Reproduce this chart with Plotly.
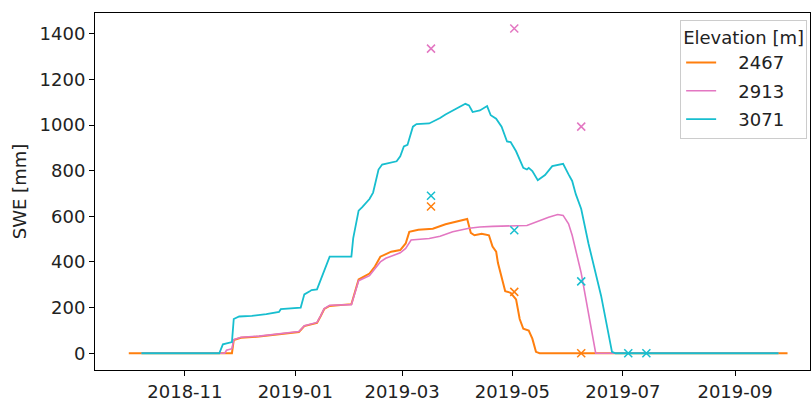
import plotly.graph_objects as go

# Modelled snow water equivalent per station elevation (water year 2018/19)
orange_dates = ["2018-10-01", "2018-11-27", "2018-11-28", "2018-12-02", "2018-12-12", "2018-12-23",
                "2019-01-03", "2019-01-06", "2019-01-09", "2019-01-13", "2019-01-15", "2019-01-17",
                "2019-01-20", "2019-02-01", "2019-02-05", "2019-02-08", "2019-02-11", "2019-02-14",
                "2019-02-17", "2019-02-23", "2019-02-28", "2019-03-03", "2019-03-05", "2019-03-10",
                "2019-03-18", "2019-03-25", "2019-04-03", "2019-04-04", "2019-04-06", "2019-04-08",
                "2019-04-10", "2019-04-14", "2019-04-18", "2019-04-20", "2019-04-22", "2019-04-23",
                "2019-04-25", "2019-04-27", "2019-04-30", "2019-05-03", "2019-05-05", "2019-05-07",
                "2019-05-10", "2019-05-12", "2019-05-14", "2019-05-16", "2019-09-30"]
orange_swe = [0, 0, 58, 68, 73, 83, 93, 119, 126, 133, 162, 194, 207, 215, 323, 337, 349, 380, 423,
              445, 452, 481, 532, 541, 546, 565, 582, 585, 588, 527, 517, 524, 517, 467, 445, 395,
              337, 272, 265, 236, 150, 107, 99, 64, 6, 0, 0]

pink_dates = ["2018-10-08", "2018-11-23", "2018-11-24", "2018-11-27", "2018-11-28", "2018-12-02",
              "2018-12-12", "2018-12-23", "2019-01-03", "2019-01-06", "2019-01-09", "2019-01-13",
              "2019-01-15", "2019-01-17", "2019-01-20", "2019-02-01", "2019-02-05", "2019-02-08",
              "2019-02-11", "2019-02-14", "2019-02-17", "2019-02-20", "2019-02-28", "2019-03-03",
              "2019-03-06", "2019-03-16", "2019-03-22", "2019-03-29", "2019-04-07", "2019-04-13",
              "2019-04-20", "2019-05-09", "2019-05-16", "2019-05-21", "2019-05-26", "2019-05-29",
              "2019-06-01", "2019-06-03", "2019-06-08", "2019-06-13", "2019-06-16", "2019-09-25"]
pink_swe = [0, 0, 13, 20, 60, 70, 75, 85, 95, 121, 128, 135, 164, 196, 210, 213, 318, 330, 340, 370,
            400, 416, 440, 459, 496, 503, 513, 532, 548, 553, 556, 560, 582, 596, 608, 604, 567, 517,
            351, 135, 0, 0]

cyan_dates = ["2018-10-08", "2018-11-20", "2018-11-22", "2018-11-27", "2018-11-28", "2018-12-01",
              "2018-12-08", "2018-12-16", "2018-12-23", "2018-12-24", "2019-01-04", "2019-01-06",
              "2019-01-09", "2019-01-10", "2019-01-13", "2019-01-14", "2019-01-16", "2019-01-18",
              "2019-01-20", "2019-02-01", "2019-02-02", "2019-02-05", "2019-02-07", "2019-02-11",
              "2019-02-13", "2019-02-16", "2019-02-18", "2019-02-26", "2019-02-28", "2019-03-02",
              "2019-03-04", "2019-03-07", "2019-03-09", "2019-03-16", "2019-03-18", "2019-03-22",
              "2019-03-25", "2019-03-29", "2019-04-02", "2019-04-05", "2019-04-07", "2019-04-09",
              "2019-04-13", "2019-04-17", "2019-04-19", "2019-04-22", "2019-04-25", "2019-04-28",
              "2019-04-30", "2019-05-03", "2019-05-07", "2019-05-09", "2019-05-10", "2019-05-12",
              "2019-05-15", "2019-05-19", "2019-05-23", "2019-05-29", "2019-06-01", "2019-06-03",
              "2019-06-05", "2019-06-08", "2019-06-12", "2019-06-19", "2019-06-25", "2019-06-27",
              "2019-09-25"]
cyan_swe = [0, 0, 39, 49, 150, 161, 164, 171, 181, 193, 200, 258, 272, 277, 280, 301, 344, 388, 423,
            423, 503, 625, 640, 676, 704, 805, 827, 841, 863, 906, 913, 993, 1004, 1007, 1014, 1031,
            1046, 1064, 1079, 1093, 1086, 1057, 1064, 1083, 1043, 1028, 993, 928, 925, 885, 812, 805,
            812, 798, 758, 781, 820, 830, 784, 755, 697, 632, 481, 251, 6, 0, 0]

# Snow pit / survey measurements
orange_obs_dates = ["2019-03-17", "2019-05-02", "2019-06-08"]
orange_obs_swe = [643, 269, 0]
pink_obs_dates = ["2019-03-17", "2019-05-02", "2019-06-08"]
pink_obs_swe = [1335, 1423, 993]
cyan_obs_dates = ["2019-03-17", "2019-05-02", "2019-06-08", "2019-07-04", "2019-07-14"]
cyan_obs_swe = [690, 539, 315, 0, 0]

elevations = ["2467", "2913", "3071"]
colors = ["#ff7f0e", "#e377c2", "#17becf"]
widths = [2.0, 1.6, 1.8]

FONT = "DejaVu Sans"
TEXT = "#222222"
FS = 18

fig = go.Figure()

series = [(orange_dates, orange_swe), (pink_dates, pink_swe), (cyan_dates, cyan_swe)]
for (d, v), name, c, w in zip(series, elevations, colors, widths):
    fig.add_trace(go.Scatter(x=d, y=v, mode="lines", name="   " + name, legendgroup=name,
                             line=dict(color=c, width=w)))

obs = [(orange_obs_dates, orange_obs_swe), (pink_obs_dates, pink_obs_swe),
       (cyan_obs_dates, cyan_obs_swe)]
for (d, v), name, c in zip(obs, elevations, colors):
    fig.add_trace(go.Scatter(x=d, y=v, mode="markers", showlegend=False, legendgroup=name,
                             marker=dict(symbol="x-thin", size=8, color=c,
                                         line=dict(color=c, width=1.5))))

fig.update_layout(
    width=811, height=402,
    margin=dict(l=95, r=0, t=13, b=27),
    paper_bgcolor="white", plot_bgcolor="white",
    font=dict(family=FONT, size=FS, color=TEXT),
    legend=dict(
        title=dict(text="Elevation [m]", font=dict(size=FS, color=TEXT)),
        x=0.996, y=0.981, xanchor="right", yanchor="top",
        tracegroupgap=2,
        bgcolor="rgba(255,255,255,0.9)", bordercolor="#cccccc", borderwidth=1,
        font=dict(size=FS, color=TEXT),
    ),
    xaxis=dict(
        range=["2018-09-12 08:00", "2019-10-12 10:00"],
        tick0="2018-11-01", dtick="M2", tickformat="%Y-%m",
        showgrid=False, zeroline=False,
        showline=True, linecolor="black", linewidth=1, mirror=True,
        ticks="outside", ticklen=5, tickcolor="black",
        tickfont=dict(size=FS, color=TEXT),
    ),
    yaxis=dict(
        range=[-73.5, 1491],
        tick0=0, dtick=200,
        showgrid=False, zeroline=False,
        showline=True, linecolor="black", linewidth=1, mirror=True,
        ticks="outside", ticklen=5, tickcolor="black",
        tickfont=dict(size=FS, color=TEXT),
        title=dict(text="SWE [mm]", font=dict(size=FS, color=TEXT), standoff=8),
    ),
)

fig.write_html("out.html")
